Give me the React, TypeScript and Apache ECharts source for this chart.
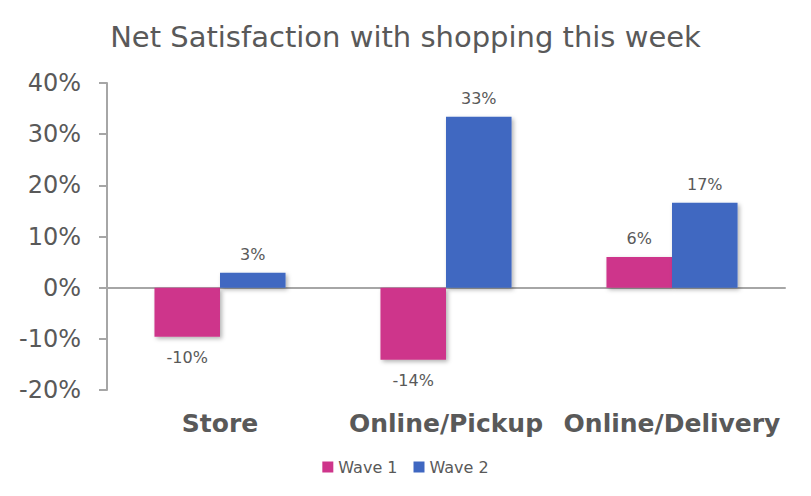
import React, { useEffect, useRef } from "react";
import * as echarts from "echarts";

const categories = ["Store", "Online/Pickup", "Online/Delivery"];
const wave1 = [-9.6, -14.1, 6.0];
const wave2 = [2.9, 33.4, 16.6];
const seriesNames = ["Wave 1", "Wave 2"];
const titleText = "Net Satisfaction with shopping this week";

const FONT = "DejaVu Sans";
const TXT = "#595959";

export default function App() {
  const ref = useRef<HTMLDivElement>(null);
  useEffect(() => {
    document.body.style.margin = "0";
    const chart = echarts.init(ref.current!, undefined, { renderer: "svg" });
    const shadow = {
      shadowBlur: 4,
      shadowColor: "rgba(0,0,0,0.3)",
      shadowOffsetX: 2,
      shadowOffsetY: 2,
    };
    const mkData = (arr: number[]) =>
      arr.map((v) => ({
        value: v,
        label: { position: v < 0 ? "bottom" : "top", distance: v < 0 ? 13 : 10 },
      }));
    chart.setOption({
      animation: false,
      textStyle: { fontFamily: FONT },
      title: {
        text: titleText,
        left: "center",
        top: 17,
        textStyle: { fontFamily: FONT, fontSize: 29, fontWeight: "normal", color: TXT },
      },
      legend: {
        data: seriesNames,
        bottom: 16,
        left: "center",
        itemWidth: 11,
        itemHeight: 11,
        itemGap: 16,
        icon: "rect",
        textStyle: { fontFamily: FONT, fontSize: 16, color: TXT },
      },
      grid: { left: 107, right: 26, top: 83, bottom: 106, containLabel: false },
      xAxis: {
        type: "category",
        data: categories,
        axisLine: { onZero: true, lineStyle: { color: "#a6a6a6", width: 2 } },
        axisTick: { show: false },
        axisLabel: {
          interval: 0,
          fontFamily: FONT,
          fontSize: 25,
          fontWeight: "bold",
          color: TXT,
          margin: 21,
        },
      },
      yAxis: {
        type: "value",
        min: -20,
        max: 40,
        interval: 10,
        splitLine: { show: false },
        axisLine: { show: true, lineStyle: { color: "#a6a6a6", width: 2 } },
        axisTick: { show: true, length: 8, lineStyle: { color: "#a6a6a6", width: 2 } },
        axisLabel: {
          formatter: "{value}%",
          fontFamily: FONT,
          fontSize: 24,
          color: TXT,
          margin: 26,
        },
      },
      series: [
        {
          name: seriesNames[0],
          type: "bar",
          data: mkData(wave1),
          barGap: "0%",
          barCategoryGap: "42%",
          itemStyle: { color: "#CE358B", ...shadow },
          label: {
            show: true,
            fontFamily: FONT,
            fontSize: 16,
            color: TXT,
            formatter: (p: any) => Math.round(p.value) + "%",
          },
        },
        {
          name: seriesNames[1],
          type: "bar",
          data: mkData(wave2),
          barGap: "0%",
          barCategoryGap: "42%",
          itemStyle: { color: "#3F67C1", ...shadow },
          label: {
            show: true,
            fontFamily: FONT,
            fontSize: 16,
            color: TXT,
            formatter: (p: any) => Math.round(p.value) + "%",
          },
        },
      ],
    });
    return () => chart.dispose();
  }, []);
  return (
    <div
      ref={ref}
      style={{ position: "fixed", left: 0, top: 0, width: 811, height: 496, background: "#fff" }}
    />
  );
}
